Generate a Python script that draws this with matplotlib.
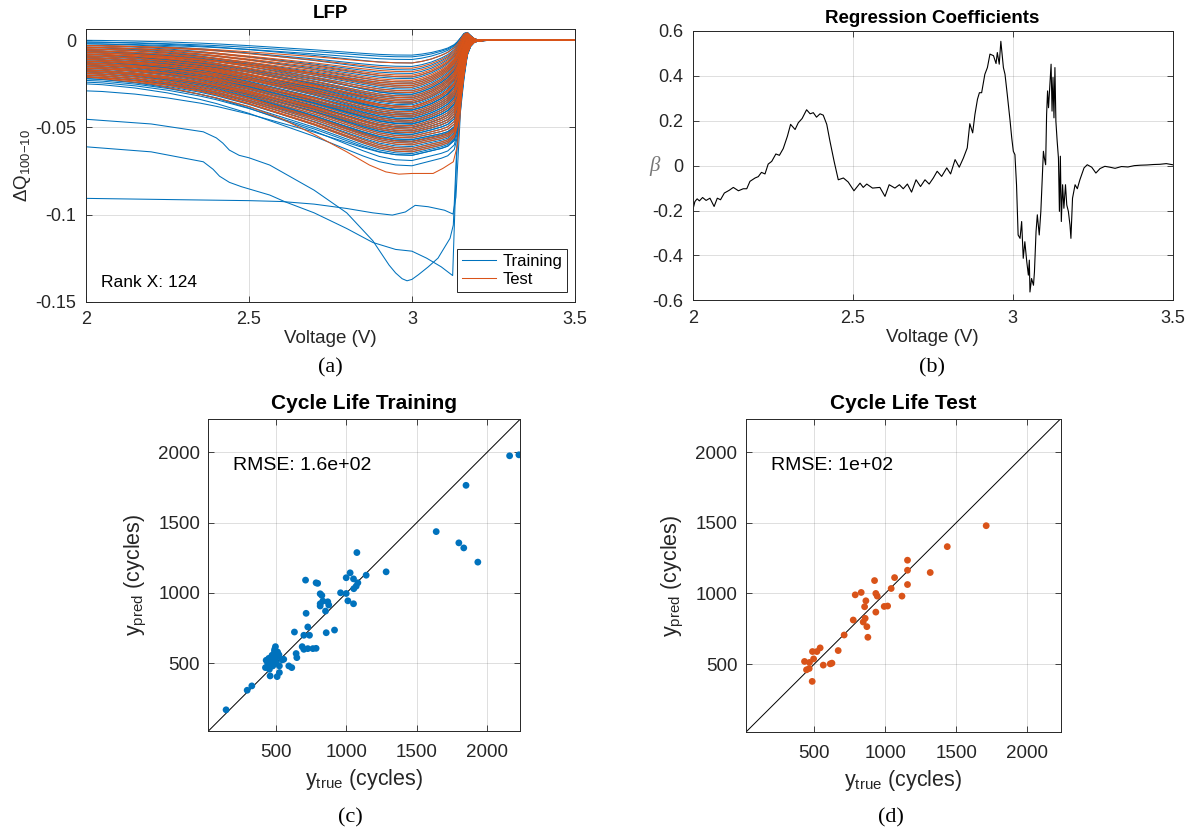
import numpy as np
import matplotlib.pyplot as plt

plt.rcParams['font.family'] = 'Liberation Sans'
plt.rcParams['mathtext.fontset'] = 'custom'
plt.rcParams['mathtext.rm'] = 'Liberation Sans'
plt.rcParams['mathtext.it'] = 'Liberation Sans:italic'
plt.rcParams['axes.unicode_minus'] = False

BLUE = '#0072BD'
ORANGE = '#D95319'
AXC = '#262626'

# ---- (a) delta Q curves ----
# shared voltage grid for the bulk of the cells
head_v = [2.00, 2.05, 2.10, 2.15, 2.20, 2.25, 2.30, 2.35, 2.40, 2.45,
          2.50, 2.55, 2.60, 2.65, 2.70, 2.75, 2.80, 2.85, 2.90, 2.95]
descent_shape = [0, 0.01, 0.03, 0.05, 0.08, 0.11, 0.15, 0.19, 0.24, 0.30,
                 0.36, 0.43, 0.50, 0.57, 0.64, 0.72, 0.80, 0.88, 0.95, 0.99]
tail_v = [3.00, 3.03, 3.06, 3.09, 3.11, 3.13, 3.14, 3.15, 3.16, 3.17,
          3.18, 3.19, 3.20, 3.22, 3.25, 3.30, 3.40, 3.50]
rise_shallow = [1.0, 0.93, 0.82, 0.66, 0.52, 0.34, 0.24, 0.13, 0.04, 0.0,
                0, 0, 0, 0, 0, 0, 0, 0]
rise_deep = [1.0, 0.98, 0.96, 0.94, 0.92, 0.87, 0.76, 0.54, 0.30, 0.12,
             0.05, 0.02, 0.008, 0.002, 0, 0, 0, 0]
overshoot_shape = [0, 0, 0, 0, 0, 0.1, 0.3, 0.6, 0.95, 1.0,
                   0.6, 0.25, 0.08, 0.02, 0, 0, 0, 0]

# (value at 2 V, lowest value near 3 V) for each cell
train_start = [0.000, -0.001, -0.002, -0.001, -0.003, -0.002, -0.004, -0.003, -0.005, -0.004,
               -0.006, -0.005, -0.006, -0.007, -0.006, -0.008, -0.007, -0.008, -0.009, -0.008,
               -0.010, -0.009, -0.010, -0.011, -0.010, -0.011, -0.012, -0.011, -0.012, -0.013,
               -0.012, -0.013, -0.014, -0.013, -0.014, -0.015, -0.014, -0.015, -0.016, -0.015,
               -0.016, -0.017, -0.016, -0.017, -0.018, -0.017, -0.018, -0.019, -0.018, -0.019,
               -0.020, -0.021, -0.020, -0.022, -0.021, -0.023, -0.024, -0.029, -0.022, -0.025,
               -0.009, -0.011, -0.013, -0.015, -0.010, -0.014, -0.016, -0.012, -0.018, -0.019,
               -0.007, -0.020, -0.017, -0.012, -0.008, -0.006, -0.021, -0.004]
train_floor = [-0.0085, -0.0095, -0.011, -0.013, -0.015, -0.017, -0.019, -0.021, -0.022, -0.024,
               -0.025, -0.027, -0.028, -0.029, -0.031, -0.032, -0.033, -0.034, -0.035, -0.036,
               -0.037, -0.038, -0.039, -0.040, -0.041, -0.042, -0.042, -0.043, -0.044, -0.044,
               -0.045, -0.046, -0.046, -0.047, -0.048, -0.048, -0.049, -0.050, -0.050, -0.051,
               -0.052, -0.052, -0.053, -0.054, -0.054, -0.055, -0.056, -0.057, -0.058, -0.059,
               -0.060, -0.061, -0.062, -0.063, -0.064, -0.065, -0.066, -0.066, -0.069, -0.072,
               -0.030, -0.036, -0.040, -0.045, -0.033, -0.043, -0.047, -0.038, -0.050, -0.053,
               -0.026, -0.057, -0.058, -0.048, -0.040, -0.036, -0.058, -0.031]
test_start = [-0.003, -0.003, -0.004, -0.004, -0.005, -0.005, -0.006, -0.006, -0.007, -0.007,
              -0.008, -0.008, -0.009, -0.009, -0.010, -0.010, -0.011, -0.011, -0.012, -0.013,
              -0.013, -0.014, -0.015, -0.015, -0.016, -0.017, -0.017, -0.018, -0.019, -0.019,
              -0.020, -0.020, -0.021, -0.021, -0.012, -0.014, -0.016, -0.008, -0.018]
test_floor = [-0.013, -0.016, -0.018, -0.020, -0.021, -0.023, -0.024, -0.026, -0.027, -0.029,
              -0.030, -0.032, -0.033, -0.035, -0.036, -0.038, -0.039, -0.041, -0.042, -0.044,
              -0.046, -0.047, -0.049, -0.051, -0.052, -0.053, -0.055, -0.056, -0.058, -0.059,
              -0.060, -0.062, -0.063, -0.064, -0.034, -0.038, -0.043, -0.025, -0.050]

# cells that stand apart from the bundle
flat_v = [2.00, 2.30, 2.50, 2.60, 2.70, 2.80, 2.88, 2.94, 2.98, 3.01, 3.05, 3.10,
          3.126, 3.135, 3.145, 3.155, 3.167, 3.18, 3.20, 3.50]
flat_q = [-0.0907, -0.0915, -0.0920, -0.0925, -0.0940, -0.0965, -0.0990, -0.1003, -0.0985, -0.0947,
          -0.0955, -0.0975, -0.0997, -0.0900, -0.0550, -0.0200, -0.0040, -0.0010, 0.0, 0.0]
step_v = [2.00, 2.20, 2.36, 2.40, 2.42, 2.44, 2.47, 2.50, 2.564, 2.70, 2.80, 2.88,
          2.93, 2.95, 2.97, 2.985, 3.00, 3.02, 3.05, 3.08, 3.117, 3.127, 3.137, 3.152,
          3.165, 3.178, 3.20, 3.50]
step_q = [-0.0453, -0.0480, -0.0525, -0.0560, -0.0590, -0.0630, -0.0660, -0.0674, -0.0716, -0.0860,
          -0.0990, -0.1150, -0.1290, -0.1335, -0.1368, -0.1380, -0.1372, -0.1345, -0.1300, -0.1250,
          -0.1136, -0.1060, -0.0640, -0.0200, -0.0060, -0.0010, 0.0, 0.0]
late_v = [2.00, 2.20, 2.36, 2.39, 2.41, 2.44, 2.477, 2.564, 2.61, 2.70, 2.80, 2.88,
          2.95, 3.00, 3.045, 3.09, 3.125, 3.137, 3.149, 3.17, 3.20, 3.50]
late_q = [-0.0611, -0.0640, -0.0697, -0.0740, -0.0780, -0.0815, -0.0840, -0.0888, -0.0926, -0.0990,
          -0.1080, -0.1160, -0.1200, -0.1210, -0.1250, -0.1300, -0.1350, -0.0680, -0.0200, -0.0030,
          0.0, 0.0]
deep_test_v = [2.00, 2.20, 2.40, 2.50, 2.60, 2.70, 2.80, 2.87, 2.92, 2.96, 3.00, 3.065,
               3.095, 3.127, 3.14, 3.147, 3.16, 3.18, 3.20, 3.50]
deep_test_q = [-0.0210, -0.0250, -0.0330, -0.0380, -0.0450, -0.0540, -0.0640, -0.0716, -0.0755, -0.0768,
               -0.0764, -0.0764, -0.0735, -0.0697, -0.0600, -0.0450, -0.0100, 0.0020, 0.0, 0.0]

# ---- (b) regression coefficients (voltage, beta) ----
beta_trace = [
    (2.000, -0.200), (2.007, -0.160), (2.014, -0.148), (2.021, -0.157), (2.031, -0.142),
    (2.042, -0.155), (2.054, -0.145), (2.067, -0.182), (2.077, -0.145), (2.087, -0.152),
    (2.099, -0.122), (2.114, -0.110), (2.127, -0.097), (2.143, -0.112), (2.158, -0.103),
    (2.169, -0.103), (2.179, -0.070), (2.195, -0.055), (2.205, -0.049), (2.215, -0.030),
    (2.226, -0.037), (2.236, 0.007), (2.247, 0.019), (2.260, 0.052), (2.271, 0.046),
    (2.283, 0.076), (2.296, 0.131), (2.306, 0.184), (2.320, 0.161), (2.330, 0.191),
    (2.342, 0.210), (2.356, 0.249), (2.367, 0.231), (2.377, 0.236), (2.387, 0.216),
    (2.398, 0.231), (2.408, 0.225), (2.419, 0.184), (2.429, 0.109), (2.442, 0.019),
    (2.455, -0.063), (2.471, -0.055), (2.486, -0.073), (2.504, -0.112), (2.523, -0.078),
    (2.533, -0.097), (2.544, -0.082), (2.562, -0.100), (2.585, -0.097), (2.601, -0.137),
    (2.614, -0.085), (2.632, -0.100), (2.646, -0.085), (2.658, -0.103), (2.671, -0.082),
    (2.684, -0.118), (2.698, -0.063), (2.712, -0.093), (2.726, -0.063), (2.739, -0.082),
    (2.752, -0.055), (2.764, -0.025), (2.778, -0.048), (2.794, -0.010), (2.806, -0.037),
    (2.820, 0.027), (2.833, -0.007), (2.846, 0.034), (2.858, 0.079), (2.866, 0.187),
    (2.875, 0.146), (2.882, 0.228), (2.890, 0.296), (2.896, 0.325), (2.903, 0.325),
    (2.913, 0.407), (2.921, 0.437), (2.929, 0.497), (2.940, 0.490), (2.948, 0.455),
    (2.952, 0.504), (2.958, 0.452), (2.963, 0.554), (2.971, 0.437), (2.976, 0.407),
    (2.983, 0.318), (2.992, 0.198), (2.997, 0.124), (3.002, 0.064), (3.007, 0.049),
    (3.012, -0.085), (3.017, -0.309), (3.023, -0.324), (3.028, -0.249), (3.033, -0.413),
    (3.038, -0.339), (3.044, -0.428), (3.049, -0.488), (3.052, -0.421), (3.054, -0.563),
    (3.059, -0.503), (3.065, -0.533), (3.068, -0.473), (3.073, -0.294), (3.077, -0.219),
    (3.083, -0.309), (3.088, -0.204), (3.096, 0.064), (3.099, 0.034), (3.103, 0.004),
    (3.106, 0.228), (3.109, 0.333), (3.112, 0.258), (3.117, 0.378), (3.120, 0.452),
    (3.123, 0.243), (3.126, 0.393), (3.129, 0.213), (3.132, 0.437), (3.135, 0.198),
    (3.139, 0.109), (3.143, 0.034), (3.146, -0.204), (3.149, 0.042), (3.152, -0.249),
    (3.156, -0.085), (3.160, -0.190), (3.165, -0.085), (3.169, -0.175), (3.174, -0.204),
    (3.179, -0.264), (3.182, -0.324), (3.187, -0.145), (3.195, -0.085), (3.202, -0.103),
    (3.210, -0.063), (3.223, -0.010), (3.233, 0.004), (3.247, -0.007), (3.260, -0.033),
    (3.273, -0.013), (3.288, -0.003), (3.304, -0.007), (3.320, -0.012), (3.340, -0.004),
    (3.360, -0.006), (3.380, 0.000), (3.400, 0.002), (3.420, 0.003), (3.440, 0.005),
    (3.460, 0.006), (3.480, 0.009), (3.500, 0.004),
]

# ---- (c), (d) cycle life predictions ----
train_true = [144, 294, 327, 495, 488, 505, 471, 448, 429, 488, 512, 542, 554, 424, 452,
              523, 523, 457, 507, 464, 500, 476, 490, 510, 470, 440, 520, 500, 590, 611,
              642, 647, 630, 685, 697, 725, 761, 784, 697, 737, 725, 713, 856, 915, 709,
              784, 795, 813, 825, 813, 813, 832, 867, 874, 851, 958, 998, 1010, 1050, 998,
              1026, 1050, 1069, 1052, 1081, 1140, 1074, 1282, 1638, 1799, 1834, 1850, 1934,
              2160, 2226]
train_pred = [169, 308, 339, 618, 587, 564, 557, 535, 521, 528, 547, 524, 528, 469, 457,
              481, 434, 410, 405, 493, 505, 481, 600, 580, 520, 500, 560, 545, 481, 469,
              569, 540, 722, 618, 599, 604, 604, 606, 699, 699, 758, 855, 717, 736, 1091,
              1072, 1068, 994, 982, 923, 907, 942, 937, 914, 871, 1001, 996, 944, 923, 1108,
              1143, 1100, 1048, 1030, 1072, 1126, 1287, 1150, 1436, 1356, 1320, 1765, 1219,
              1975, 1982]
test_true = [1711, 1437, 1317, 1157, 1157, 1157, 1118, 1066, 1042, 1017, 993, 925, 934, 944,
             934, 831, 789, 864, 855, 859, 845, 871, 878, 775, 711, 669, 625, 613, 564, 542,
             519, 488, 496, 467, 432, 446, 465, 486]
test_pred = [1479, 1331, 1148, 1235, 1164, 1063, 981, 1112, 1035, 911, 908, 1091, 1000, 981,
             868, 1007, 990, 948, 906, 824, 798, 765, 690, 812, 706, 596, 507, 502, 493, 615,
             589, 589, 537, 512, 519, 460, 469, 378]
cycle_lim = (18, 2236)


def style_axes(ax, size, xpad, ypad):
    ax.tick_params(direction='in', length=4, width=0.6, top=True, right=True,
                   labelsize=size, colors=AXC)
    ax.tick_params(axis='x', pad=xpad)
    ax.tick_params(axis='y', pad=ypad)
    for sp in ax.spines.values():
        sp.set_color(AXC)
        sp.set_linewidth(0.7)
    ax.grid(True, color=AXC, alpha=0.15, lw=0.7)
    ax.set_axisbelow(True)


def bundle_curve(start, floor):
    head = start + (floor - start) * np.array(descent_shape)
    w = np.clip((-floor - 0.012) / 0.045, 0, 1)
    tail = floor * ((1 - w) * np.array(rise_shallow) + w * np.array(rise_deep))
    tail = tail + (1 - w) * 0.0045 * np.array(overshoot_shape)
    return np.concatenate([head, tail])


fig = plt.figure(figsize=(11.92, 8.33), dpi=100)
volt = np.array(head_v + tail_v)

# (a)
ax1 = fig.add_axes([0.0721, 0.6378, 0.4102, 0.3274])
for s, m in zip(train_start, train_floor):
    ax1.plot(volt, bundle_curve(s, m), color=BLUE, lw=0.75)
for vv, qq in [(step_v, step_q), (late_v, late_q)]:
    ax1.plot(vv, qq, color=BLUE, lw=0.75)
h_train, = ax1.plot(flat_v, flat_q, color=BLUE, lw=0.75)
for s, m in zip(test_start, test_floor):
    ax1.plot(volt, bundle_curve(s, m), color=ORANGE, lw=0.75)
h_test, = ax1.plot(deep_test_v, deep_test_q, color=ORANGE, lw=0.75)
ax1.set_xlim(2, 3.5)
ax1.set_ylim(-0.15, 0.0065)
ax1.set_xticks([2, 2.5, 3, 3.5])
ax1.set_xticklabels(['2', '2.5', '3', '3.5'])
ax1.set_yticks([-0.15, -0.1, -0.05, 0])
ax1.set_yticklabels(['-0.15', '-0.1', '-0.05', '0'])
style_axes(ax1, 13, 7, 7)
ax1.set_title('LFP', fontsize=13.5, fontweight='bold', pad=8)
ax1.set_xlabel('Voltage (V)', fontsize=13.5, color=AXC)
ax1.xaxis.set_label_coords(0.5, -0.105)
ax1.set_ylabel('ΔQ$_{\\mathregular{100{-}10}}$', fontsize=13.5, color=AXC)
ax1.yaxis.set_label_coords(-0.108, 0.5)
ax1.text(0.031, 0.069, 'Rank X: 124', transform=ax1.transAxes, fontsize=12.5,
         va='center', ha='left', color='black')
leg = ax1.legend([h_train, h_test], ['Training', 'Test'], loc='lower right',
                 bbox_to_anchor=(0.984, 0.036), fontsize=12, fancybox=False,
                 framealpha=1, edgecolor=AXC, borderpad=0.3, labelspacing=0.2,
                 handletextpad=0.4, borderaxespad=0)
leg.get_frame().set_linewidth(0.7)

# (b)
ax2 = fig.add_axes([0.5811, 0.6395, 0.4027, 0.3233])
bv = [p[0] for p in beta_trace]
bc = [p[1] for p in beta_trace]
ax2.plot(bv, bc, color='black', lw=0.8)
ax2.set_xlim(2, 3.5)
ax2.set_ylim(-0.6, 0.6)
ax2.set_xticks([2, 2.5, 3, 3.5])
ax2.set_xticklabels(['2', '2.5', '3', '3.5'])
ax2.set_yticks([-0.6, -0.4, -0.2, 0, 0.2, 0.4, 0.6])
ax2.set_yticklabels(['-0.6', '-0.4', '-0.2', '0', '0.2', '0.4', '0.6'])
style_axes(ax2, 13, 7, 7)
ax2.set_title('Regression Coefficients', fontsize=13.5, fontweight='bold', pad=6)
ax2.set_xlabel('Voltage (V)', fontsize=13.5, color=AXC)
ax2.xaxis.set_label_coords(0.5, -0.105)
ax2.set_ylabel('β', rotation=0, fontfamily='Liberation Serif', style='italic',
               fontsize=15, color='#777777', va='center', ha='center')
ax2.yaxis.set_label_coords(-0.08, 0.5)


def cycle_panel(rect, xs, ys, color, title, rmse):
    ax = fig.add_axes(rect)
    ax.scatter(xs, ys, s=24, color=color, edgecolors='none', zorder=3)
    ax.plot(cycle_lim, cycle_lim, color='black', lw=0.7, zorder=2)
    ax.set_xlim(cycle_lim)
    ax.set_ylim(cycle_lim)
    ax.set_xticks([500, 1000, 1500, 2000])
    ax.set_yticks([500, 1000, 1500, 2000])
    style_axes(ax, 13.5, 9, 6)
    ax.set_title(title, fontsize=15, fontweight='bold', pad=7)
    ax.set_xlabel('y$_{\\mathregular{true}}$ (cycles)', fontsize=15.5, color=AXC)
    ax.xaxis.set_label_coords(0.5, -0.115)
    ax.set_ylabel('y$_{\\mathregular{pred}}$ (cycles)', fontsize=15.5, color=AXC)
    ax.yaxis.set_label_coords(-0.19, 0.5)
    ax.text(0.079, 0.852, rmse, transform=ax.transAxes, fontsize=14,
            va='center', ha='left', color='black')
    return ax


cycle_panel([0.1748, 0.1224, 0.2617, 0.3745], train_true, train_pred, BLUE,
            'Cycle Life Training', 'RMSE: 1.6e+02')
cycle_panel([0.6256, 0.1209, 0.2643, 0.3765], test_true, test_pred, ORANGE,
            'Cycle Life Test', 'RMSE: 1e+02')

for x, y, lab in [(330, 368, '(a)'), (932, 368, '(b)'), (350, 818, '(c)'), (891, 818, '(d)')]:
    fig.text(x / 1192, 1 - y / 833, lab, ha='center', va='center',
             family='Liberation Serif', fontsize=16)

fig.savefig('out.png', dpi=100)
